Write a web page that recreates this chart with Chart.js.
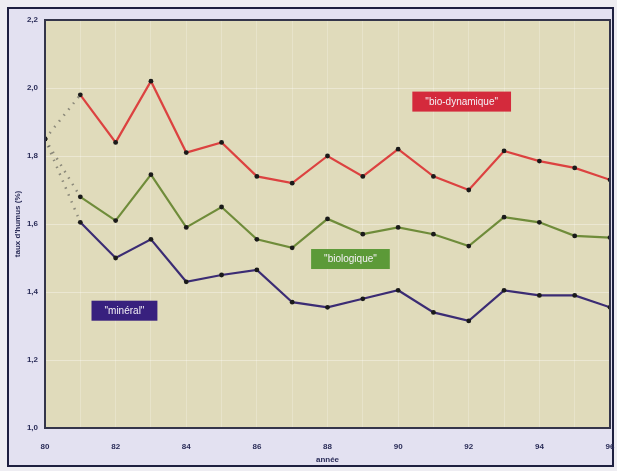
<!DOCTYPE html>
<html lang="fr">
<head>
<meta charset="utf-8">
<script src="https://cdn.jsdelivr.net/npm/chart.js@4/dist/chart.umd.min.js"></script>
<style>
  html, body { margin: 0; padding: 0; background: #eeedf2; }
  #frame {
    position: absolute; left: 7px; top: 7px; width: 603px; height: 456px;
    border: 2px solid #1e2040; background: #e3e1f1;
  }
  #wrap { position: absolute; left: 0; top: 0; width: 617px; height: 471px; }
</style>
</head>
<body>
<div id="frame"></div>
<div id="wrap"><canvas id="c" width="617" height="471"></canvas></div>
<script>
// Taux d'humus (%) par année et par mode de culture
const years = [80, 81, 82, 83, 84, 85, 86, 87, 88, 89, 90, 91, 92, 93, 94, 95, 96];
const bioDynamique = [1.85, 1.98, 1.84, 2.02, 1.81, 1.84, 1.74, 1.72, 1.80, 1.74, 1.82, 1.74, 1.70, 1.815, 1.785, 1.765, 1.73];
const biologique   = [1.85, 1.68, 1.61, 1.745, 1.59, 1.65, 1.555, 1.53, 1.615, 1.57, 1.59, 1.57, 1.535, 1.62, 1.605, 1.565, 1.56];
const mineral      = [1.85, 1.605, 1.50, 1.555, 1.43, 1.45, 1.465, 1.37, 1.355, 1.38, 1.405, 1.34, 1.315, 1.405, 1.39, 1.39, 1.355];
const yTicks = [1.0, 1.2, 1.4, 1.6, 1.8, 2.0, 2.2];

// Étiquettes des séries : texte, position (année, taux), couleur du cadre
const seriesLabels = [
  { text: '"bio-dynamique"', x: 91.8, y: 1.96, color: '#d42a3c' },
  { text: '"biologique"',    x: 88.65, y: 1.497, color: '#5c9a38' },
  { text: '"minéral"',       x: 82.25, y: 1.345, color: '#38207e' }
];

const toPoints = vals => years.map((yr, i) => ({ x: yr, y: vals[i] }));

// premier segment (80 -> 81) en pointillé
const firstSegment = {
  borderDash: ctx => ctx.p0DataIndex === 0 ? [1.5, 6] : undefined,
  borderColor: ctx => ctx.p0DataIndex === 0 ? 'rgba(70,70,70,0.55)' : undefined,
  borderWidth: ctx => ctx.p0DataIndex === 0 ? 2.5 : undefined
};

function series(label, vals, color) {
  return {
    label, data: toPoints(vals),
    borderColor: color, borderWidth: 2.2,
    pointRadius: 2.4, pointBackgroundColor: '#1a1a1a', pointBorderColor: '#1a1a1a',
    pointBorderWidth: 0, tension: 0, segment: firstSegment
  };
}

const plotFrame = {
  id: 'plotFrame',
  beforeDraw(chart) {
    const { ctx, chartArea: a } = chart;
    ctx.save();
    ctx.fillStyle = '#e0dbbb';
    ctx.fillRect(a.left, a.top, a.right - a.left, a.bottom - a.top);
    ctx.restore();
  },
  afterDatasetsDraw(chart) {
    const { ctx, chartArea: a } = chart;
    ctx.save();
    ctx.strokeStyle = '#34354a';
    ctx.lineWidth = 2;
    ctx.strokeRect(a.left, a.top, a.right - a.left, a.bottom - a.top);
    ctx.restore();
  }
};

const labelBoxes = {
  id: 'labelBoxes',
  afterDatasetsDraw(chart) {
    const { ctx, scales } = chart;
    ctx.save();
    ctx.font = '10px "Liberation Sans", Arial, sans-serif';
    ctx.textAlign = 'center';
    ctx.textBaseline = 'middle';
    seriesLabels.forEach(l => {
      const cx = scales.x.getPixelForValue(l.x);
      const cy = scales.y.getPixelForValue(l.y);
      const w = ctx.measureText(l.text).width + 26;
      const h = 20;
      ctx.fillStyle = l.color;
      ctx.fillRect(cx - w / 2, cy - h / 2, w, h);
      ctx.fillStyle = '#f4f0f6';
      ctx.fillText(l.text, cx, cy + 0.5);
    });
    ctx.restore();
  }
};

const tickFont = { family: '"Liberation Sans", Arial, sans-serif', size: 8, weight: 'bold' };

new Chart(document.getElementById('c'), {
  type: 'line',
  data: {
    datasets: [
      series('"bio-dynamique"', bioDynamique, '#dc4240'),
      series('"biologique"', biologique, '#6f8c3a'),
      series('"minéral"', mineral, '#3b2c74')
    ]
  },
  options: {
    responsive: false,
    animation: false,
    events: [],
    layout: { padding: { left: 13, top: 20, right: 7, bottom: 6 } },
    plugins: { legend: { display: false }, tooltip: { enabled: false } },
    scales: {
      x: {
        type: 'linear', min: 80, max: 96,
        afterFit: s => { s.height = 37; s.paddingLeft = 0; s.paddingRight = 0; },
        grid: { color: 'rgba(255,255,255,0.22)', drawTicks: false },
        border: { display: false },
        ticks: {
          stepSize: 1, autoSkip: false, maxRotation: 0, padding: 14,
          color: '#2a2c58', font: tickFont,
          callback: v => (v % 2 === 0 ? String(v) : '')
        },
        title: { display: true, text: 'année', color: '#2a2c58', font: tickFont, padding: { top: 0, bottom: 0 } }
      },
      y: {
        min: 1.0, max: 2.2,
        afterFit: s => { s.width = 32; s.paddingTop = 0; s.paddingBottom = 0; },
        afterBuildTicks: s => { s.ticks = yTicks.map(v => ({ value: v })); },
        grid: { color: 'rgba(255,255,255,0.35)', drawTicks: false },
        border: { display: false },
        ticks: {
          padding: 7, color: '#2a2c58', font: tickFont,
          callback: v => v.toFixed(1).replace('.', ',')
        },
        title: { display: true, text: "taux d'humus (%)", color: '#2a2c58', font: tickFont, padding: { top: 0, bottom: 1 } }
      }
    }
  },
  plugins: [plotFrame, labelBoxes]
});
</script>
</body>
</html>
